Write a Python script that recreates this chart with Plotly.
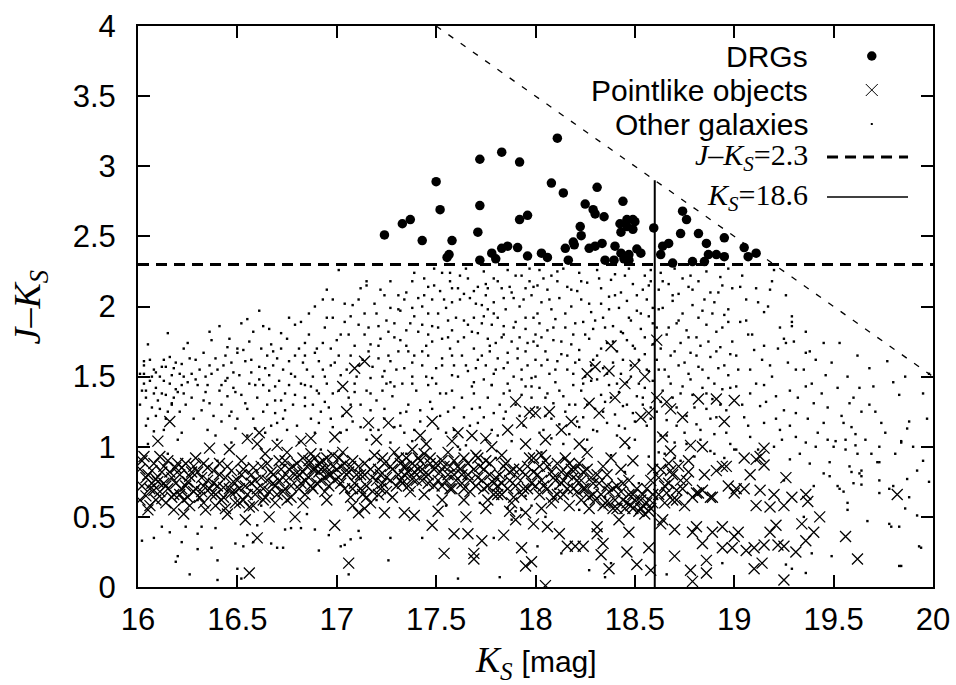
import plotly.graph_objects as go

# ---------------- data ----------------
CUT_JK = 2.3          # J-Ks colour cut
CUT_K = 18.6          # Ks completeness line
CUT_K_TOP = 2.9       # top of the Ks line
J_LIMIT = 21.5        # J limit -> J-Ks = J_LIMIT - Ks
J_LIMIT_K = [17.5, 20.0]

X_TICKS = [16, 16.5, 17, 17.5, 18, 18.5, 19, 19.5, 20]
Y_TICKS = [0, 0.5, 1, 1.5, 2, 2.5, 3, 3.5, 4]

LEGEND_LABELS = ["DRGs", "Pointlike objects", "Other galaxies",
                 "<i>J</i>–<i>K<sub>S</sub></i>=2.3", "<i>K<sub>S</sub></i>=18.6"]

DRGS = [(17.24,2.51),(17.33,2.59),(17.37,2.62),(17.50,2.89),(17.52,2.69),(17.43,2.47),(17.58,2.47),
        (17.555,2.35),(17.565,2.37),(17.72,3.05),(17.72,2.72),(17.71,2.53),(17.72,2.33),(17.83,3.10),
        (17.92,3.03),(18.11,3.20),(18.08,2.88),(18.14,2.81),(18.31,2.85),(18.44,2.75),(17.92,2.62),
        (17.96,2.65),(18.25,2.73),(18.29,2.69),(18.30,2.66),(18.345,2.64),(18.225,2.57),(18.23,2.505),
        (18.19,2.46),(18.195,2.44),(18.15,2.415),(18.27,2.415),(18.30,2.43),(18.335,2.45),(18.40,2.43),
        (18.46,2.62),(18.49,2.62),(18.425,2.59),(18.46,2.57),(18.49,2.55),(18.43,2.53),(18.50,2.605),
        (18.595,2.56),(18.43,2.38),(18.47,2.37),(18.51,2.41),(18.53,2.38),(18.445,2.34),(18.47,2.33),
        (18.35,2.33),(18.395,2.33),(18.165,2.33),(17.78,2.38),(17.80,2.34),(17.83,2.415),(17.86,2.43),
        (17.91,2.42),(17.96,2.36),(18.03,2.38),(18.06,2.35),(18.64,2.43),(18.67,2.45),(18.63,2.37),
        (18.69,2.31),(18.74,2.68),(18.76,2.62),(18.73,2.52),(18.82,2.52),(18.86,2.45),(18.95,2.49),
        (18.79,2.32),(18.85,2.32),(18.87,2.37),(18.91,2.37),(18.95,2.355),(19.05,2.42),(19.07,2.355),
        (19.11,2.38)]

POINTLIKE = [
    (16.02,0.72),(16.03,0.93),(16.04,0.65),(16.05,0.80),(16.06,0.58),(16.07,0.74),(16.08,0.88),(16.09,0.62),
    (16.10,1.04),(16.01,0.84),(16.06,0.70),(16.09,0.77),
    (16.11,0.68),(16.12,0.82),(16.13,0.74),(16.14,0.60),(16.15,0.90),(16.16,1.18),(16.17,0.78),(16.18,0.66),
    (16.19,0.85),(16.14,0.72),(16.18,0.55),
    (16.21,0.80),(16.22,0.70),(16.23,0.62),(16.24,0.88),(16.25,0.75),(16.26,0.58),(16.27,0.82),(16.28,0.68),
    (16.29,0.92),(16.23,0.52),
    (16.31,0.64),(16.32,0.78),(16.33,0.72),(16.34,0.55),(16.35,0.85),(16.36,0.99),(16.37,0.66),(16.38,0.74),
    (16.39,0.58),(16.33,0.88),
    (16.41,0.80),(16.42,0.62),(16.43,0.71),(16.44,0.56),(16.45,0.86),(16.46,0.98),(16.47,0.67),(16.48,0.75),
    (16.49,0.60),(16.45,0.52),
    (16.51,0.70),(16.52,0.80),(16.53,0.62),(16.54,0.48),(16.55,1.06),(16.56,0.10),(16.57,0.74),(16.58,0.85),
    (16.59,0.66),(16.52,0.90),(16.56,0.57),
    (16.60,0.35),(16.61,1.10),(16.62,0.78),(16.63,0.70),(16.64,0.64),(16.65,0.88),(16.66,0.50),(16.67,0.82),
    (16.68,0.74),(16.69,0.60),(16.70,1.01),(16.64,0.95),
    (16.71,0.76),(16.72,0.84),(16.73,0.68),(16.74,0.90),(16.75,0.62),(16.76,0.78),(16.77,0.72),(16.78,0.86),
    (16.79,0.50),(16.75,0.96),
    (16.81,0.80),(16.82,0.74),(16.83,0.92),(16.84,0.66),(16.85,0.86),(16.86,0.78),(16.87,1.06),(16.88,0.70),
    (16.89,0.84),(16.83,0.60),(16.87,0.95),
    (16.91,0.82),(16.92,0.76),(16.93,0.90),(16.94,0.68),(16.95,0.85),(16.96,0.72),(16.97,0.80),(16.98,0.94),
    (16.99,1.07),(16.99,0.44),(16.95,0.62),
    (17.01,0.78),(17.02,0.86),(17.03,1.43),(17.04,0.70),(17.05,1.25),(17.06,0.17),(17.06,0.82),(17.07,0.64),
    (17.08,0.90),(17.09,0.74),(17.03,0.96),(17.08,0.58),(17.09,1.56),(17.14,1.61),
    (17.11,0.53),(17.12,0.80),(17.13,0.66),(17.14,0.88),(17.15,0.72),(17.16,1.17),(17.17,0.60),(17.18,0.78),
    (17.19,0.94),(17.14,0.56),
    (17.21,0.84),(17.22,0.70),(17.23,0.92),(17.24,0.53),(17.25,0.78),(17.26,1.17),(17.27,0.86),(17.28,0.64),
    (17.29,0.96),(17.23,0.74),
    (17.31,0.80),(17.32,0.88),(17.33,0.74),(17.34,0.53),(17.35,0.92),(17.36,0.82),(17.37,0.68),(17.38,0.98),
    (17.39,0.51),(17.34,0.86),(17.38,0.77),
    (17.41,0.84),(17.42,0.90),(17.43,0.76),(17.44,0.66),(17.45,1.02),(17.46,0.80),(17.47,0.88),(17.48,1.18),
    (17.48,0.44),(17.49,0.72),(17.44,0.95),
    (17.51,0.54),(17.52,0.82),(17.53,0.90),(17.54,0.24),(17.55,0.76),(17.56,0.96),(17.57,0.86),(17.58,0.70),
    (17.59,0.38),(17.59,0.80),(17.53,0.62),
    (17.61,1.10),(17.62,0.84),(17.63,0.74),(17.64,0.92),(17.65,0.50),(17.66,0.38),(17.66,0.80),(17.67,0.68),
    (17.68,1.08),(17.69,0.24),(17.69,0.20),(17.70,0.94),(17.64,0.62),
    (17.71,0.78),(17.72,0.86),(17.73,0.33),(17.74,0.70),(17.75,0.90),(17.76,0.62),(17.77,0.80),(17.78,1.00),
    (17.79,0.74),(17.75,0.56),
    (17.81,0.72),(17.82,0.80),(17.83,0.66),(17.84,0.37),(17.85,0.88),(17.86,1.12),(17.87,0.76),(17.88,0.60),
    (17.89,0.84),(17.83,0.94),(17.87,0.54),
    (17.90,1.32),(17.90,0.48),(17.91,0.78),(17.93,1.17),(17.93,0.28),(17.94,0.70),(17.95,0.15),(17.95,0.53),
    (17.96,0.86),(17.97,1.25),(17.98,0.18),(17.98,0.74),(17.99,0.45),(17.99,0.92),
    (18.00,1.24),(18.01,0.80),(18.02,0.66),(18.03,0.94),(18.04,0.72),(18.05,0.01),(18.06,0.43),(18.06,0.86),
    (18.07,1.25),(18.08,0.60),(18.09,0.78),(18.03,0.56),
    (18.11,0.88),(18.12,0.38),(18.13,1.12),(18.13,0.74),(18.14,0.66),(18.15,0.92),(18.16,0.29),(18.16,0.80),
    (18.17,0.58),(18.18,1.18),(18.18,0.84),(18.19,0.70),
    (18.20,0.29),(18.21,0.76),(18.22,0.88),(18.23,0.62),(18.24,0.29),(18.24,0.82),(18.25,0.70),(18.26,0.96),
    (18.27,1.31),(18.27,0.56),(18.28,0.78),(18.29,0.66),(18.26,1.52),
    (18.31,0.38),(18.31,0.43),(18.32,1.24),(18.32,0.74),(18.33,0.23),(18.34,0.31),(18.34,0.86),(18.35,0.60),
    (18.36,0.80),(18.37,0.13),(18.37,0.68),(18.38,0.92),(18.39,0.56),(18.40,1.35),(18.30,1.57),(18.37,1.54),
    (18.38,1.72),
    (18.41,0.72),(18.42,0.48),(18.43,0.84),(18.44,0.62),(18.45,1.45),(18.45,0.56),(18.46,0.25),(18.47,0.39),
    (18.47,0.76),(18.48,0.58),(18.49,0.90),(18.49,0.66),
    (18.50,1.58),(18.51,0.16),(18.52,0.54),(18.53,1.21),(18.53,0.62),(18.54,0.58),(18.55,1.50),(18.55,0.52),
    (18.56,0.70),(18.57,0.28),(18.57,1.24),(18.58,0.12),(18.58,0.56),(18.59,0.84),(18.59,0.60),(18.61,1.76),
    (18.61,1.35),(18.62,0.78),(18.63,0.45),(18.64,0.48),(18.64,1.07),(18.65,0.72),(18.66,0.67),(18.66,1.32),
    (18.67,0.88),(18.68,0.83),(18.68,0.97),(18.68,1.27),(18.70,0.41),(18.70,0.22),(18.69,0.62),
    (18.71,0.69),(18.73,0.76),(18.74,1.21),(18.75,0.58),(18.76,0.76),(18.77,0.90),(18.78,1.01),(18.78,0.12),
    (18.79,0.39),(18.79,0.64),(18.79,0.04),(18.72,0.86),
    (18.81,0.43),(18.81,0.67),(18.82,1.34),(18.82,0.67),(18.84,1.00),(18.84,0.69),(18.84,0.31),(18.86,0.19),
    (18.86,0.10),(18.88,0.64),(18.89,0.39),(18.89,0.64),(18.85,0.80),
    (18.91,0.83),(18.91,1.34),(18.94,0.86),(18.94,0.43),(18.94,0.28),(18.95,1.18),(18.96,0.86),(18.99,0.28),
    (19.00,0.67),(19.00,0.36),(19.00,1.33),(18.97,0.72),
    (19.01,0.70),(19.02,0.39),(19.05,0.92),(19.05,0.70),(19.06,0.26),(19.08,0.80),
    (19.10,0.28),(19.10,0.13),(19.11,0.58),(19.11,0.91),(19.13,0.93),(19.13,0.69),(19.14,0.17),(19.15,0.99),
    (19.15,0.87),(19.15,0.30),(19.18,0.57),(19.18,0.39),(19.20,0.66),
    (19.21,0.44),(19.22,0.30),(19.25,0.58),(19.25,0.29),(19.25,0.05),(19.26,0.78),(19.29,0.64),
    (19.31,0.25),(19.34,0.45),(19.36,0.66),(19.36,0.33),(19.37,0.61),(19.40,0.39),
    (19.43,0.50),(19.56,0.36),(19.62,0.20),(19.82,0.66),
    # dense band, second reading
    (16.01,0.62),(16.02,0.90),(16.04,0.78),(16.05,0.55),(16.07,0.83),(16.08,0.69),(16.10,0.75),
    (16.11,0.93),(16.12,0.63),(16.13,0.86),(16.15,0.70),(16.16,0.82),(16.17,0.64),(16.19,0.74),(16.20,0.88),
    (16.21,0.66),(16.22,0.85),(16.24,0.72),(16.25,0.64),(16.26,0.79),(16.28,0.86),(16.29,0.70),
    (16.30,0.82),(16.32,0.68),(16.33,0.60),(16.35,0.76),(16.36,0.70),(16.38,0.83),(16.39,0.66),
    (16.40,0.72),(16.41,0.88),(16.43,0.64),(16.44,0.78),(16.46,0.70),(16.47,0.83),(16.49,0.68),
    (16.50,0.76),(16.51,0.60),(16.53,0.84),(16.54,0.72),(16.55,0.66),(16.57,0.80),(16.58,0.58),(16.59,0.76),
    (16.60,0.70),(16.62,0.86),(16.63,0.62),(16.65,0.76),(16.66,0.68),(16.68,0.80),(16.69,0.72),
    (16.70,0.66),(16.71,0.90),(16.73,0.78),(16.74,0.70),(16.76,0.84),(16.77,0.64),(16.79,0.80),
    (16.80,0.88),(16.81,0.70),(16.83,0.82),(16.84,0.76),(16.86,0.90),(16.87,0.72),(16.88,0.84),(16.89,0.92),
    (16.90,0.74),(16.91,0.88),(16.92,0.84),(16.94,0.78),(16.95,0.92),(16.96,0.80),(16.98,0.86),(16.99,0.76),
    (17.00,0.84),(17.01,0.92),(17.02,0.74),(17.04,0.88),(17.05,0.80),(17.07,0.86),(17.08,0.70),(17.10,0.80),
    (17.11,0.86),(17.12,0.70),(17.14,0.80),(17.15,0.64),(17.17,0.84),(17.18,0.68),(17.20,0.76),
    (17.21,0.66),(17.22,0.80),(17.24,0.88),(17.25,0.68),(17.27,0.76),(17.28,0.84),(17.30,0.72),
    (17.31,0.92),(17.32,0.76),(17.34,0.80),(17.35,0.86),(17.36,0.72),(17.38,0.88),(17.39,0.82),
    (17.40,0.76),(17.41,0.92),(17.43,0.84),(17.44,0.80),(17.46,0.74),(17.47,0.92),(17.49,0.84),
    (17.50,0.88),(17.51,0.76),(17.53,0.72),(17.54,0.86),(17.56,0.80),(17.57,0.70),(17.59,0.90),
    (17.60,0.76),(17.61,0.86),(17.63,0.80),(17.64,0.70),(17.66,0.88),(17.67,0.76),(17.69,0.84),
    (17.70,0.72),(17.71,0.92),(17.73,0.76),(17.74,0.84),(17.76,0.72),(17.77,0.88),(17.79,0.66),
    (17.80,0.78),(17.81,0.66),(17.83,0.74),(17.84,0.86),(17.86,0.70),(17.87,0.82),(17.89,0.64),
    (17.90,0.72),(17.92,0.84),(17.93,0.66),(17.95,0.80),(17.96,0.70),(17.97,0.92),(17.99,0.82),
    (18.00,0.72),(18.02,0.86),(18.03,0.76),(18.05,0.90),(18.06,0.70),(18.08,0.82),(18.09,0.64),
    (18.10,0.76),(18.11,0.66),(18.13,0.82),(18.14,0.76),(18.16,0.70),(18.17,0.88),(18.19,0.78),
    (18.20,0.84),(18.21,0.68),(18.23,0.76),(18.24,0.70),(18.26,0.84),(18.27,0.64),(18.29,0.74),
    (18.30,0.62),(18.31,0.80),(18.33,0.66),(18.34,0.58),(18.36,0.72),(18.37,0.60),(18.39,0.70),
    (18.40,0.62),(18.41,0.56),(18.43,0.68),(18.44,0.74),(18.46,0.60),(18.47,0.66),(18.49,0.56),
    (18.50,0.62),(18.51,0.70),(18.53,0.56),(18.54,0.66),(18.56,0.60),(18.57,0.54),(18.59,0.66),(18.58,0.76),
    (18.62,0.66),(18.63,0.84),(18.65,0.60),(18.67,0.74),(18.69,0.80),(18.71,0.62),(18.74,0.70),(18.77,0.82),
    (17.20,1.05),(17.42,1.08),(17.58,1.04),(17.75,1.06),(17.95,1.02),(18.05,1.05),(18.22,1.02),(18.45,1.03),
    (16.60,1.02),(16.82,1.04)]

OTHER_GALAXIES = [
    # Ks 16-17, upper cloud
    (16.01,1.52),(16.02,1.40),(16.03,1.58),(16.04,1.35),(16.05,1.73),(16.06,1.47),(16.07,1.28),(16.08,1.55),
    (16.09,1.42),(16.04,1.15),(16.09,1.22),(16.11,1.50),(16.12,1.38),(16.13,1.62),(16.15,1.81),(16.16,1.45),
    (16.17,1.30),(16.18,1.56),(16.19,1.41),(16.14,1.20),(16.04,1.40),(16.08,1.38),(16.14,1.37),(16.17,1.31),
    (16.20,1.39),(16.22,1.44),(16.30,1.44),(16.34,1.39),(16.33,1.33),(16.45,1.36),(16.49,1.39),(16.42,1.44),
    (16.24,1.30),(16.42,1.18),(16.50,1.20),(16.47,1.25),(16.54,1.31),(16.59,1.44),(16.63,1.44),(16.69,1.43),
    (16.76,1.44),(16.84,1.44),(16.91,1.38),(16.87,1.43),(16.79,1.37),(16.72,1.33),(16.65,1.30),(16.69,1.24),
    (16.74,1.26),(16.84,1.29),(16.88,1.30),(16.94,1.32),(16.91,1.17),(16.98,1.14),(16.89,1.10),(16.81,1.03),
    (16.70,1.17),(16.75,1.12),(16.64,1.10),(16.59,1.13),(16.22,1.10),(16.13,1.12),(16.08,1.11),(16.39,1.08),
    (16.47,1.03),(16.03,1.61),(16.03,1.52),(16.09,1.53),(16.14,1.57),(16.17,1.51),(16.22,1.59),(16.23,1.50),
    (16.27,1.52),(16.29,1.62),(16.34,1.50),(16.36,1.58),(16.40,1.55),(16.44,1.65),(16.45,1.49),(16.48,1.53),
    (16.50,1.67),(16.54,1.61),(16.57,1.53),(16.61,1.57),(16.65,1.65),(16.66,1.51),(16.70,1.63),(16.73,1.55),
    (16.76,1.61),(16.79,1.50),(16.84,1.65),(16.85,1.55),(16.91,1.61),(16.94,1.50),(16.97,1.58),(17.01,1.65),
    (17.02,1.51),(16.23,1.70),(16.45,1.71),(16.50,1.70),(16.56,1.75),(16.67,1.73),(16.68,1.68),(16.81,1.70),
    (16.84,1.74),(16.90,1.70),(16.93,1.74),(17.00,1.76),(16.72,1.81),(16.58,1.82),(16.41,1.86),(16.55,1.91),
    (16.61,1.97),(16.63,1.86),(16.25,1.74),(16.37,1.76),(16.46,1.77),(16.79,1.87),(16.82,1.89),(16.93,2.05),
    (16.95,2.12),(17.01,2.26),(16.95,1.92),(16.98,1.92),
    (16.01,1.30),(16.03,1.45),(16.05,1.20),(16.06,1.62),(16.07,1.50),(16.10,1.33),(16.11,1.27),(16.12,1.57),
    (16.13,1.47),(16.15,1.25),(16.16,1.64),(16.18,1.35),(16.19,1.60),(16.21,1.25),(16.21,1.52),(16.23,1.38),
    (16.25,1.46),(16.26,1.63),(16.27,1.35),(16.28,1.20),(16.29,1.48),(16.31,1.55),(16.32,1.26),(16.33,1.67),
    (16.35,1.44),(16.36,1.31),(16.37,1.52),(16.38,1.22),(16.39,1.63),(16.41,1.40),(16.42,1.30),(16.43,1.58),
    (16.44,1.47),(16.46,1.22),(16.47,1.60),(16.48,1.42),(16.49,1.13),(16.51,1.51),(16.52,1.37),(16.53,1.69),
    (16.55,1.27),(16.56,1.45),(16.57,1.62),(16.58,1.20),(16.60,1.35),(16.61,1.48),(16.62,1.70),(16.63,1.25),
    (16.64,1.56),(16.66,1.40),(16.67,1.15),(16.68,1.58),(16.69,1.33),(16.71,1.47),(16.72,1.70),(16.73,1.20),
    (16.74,1.38),(16.75,1.77),(16.77,1.52),(16.78,1.30),(16.79,1.65),(16.80,1.15),(16.82,1.45),(16.83,1.60),
    (16.84,1.35),(16.86,1.80),(16.87,1.20),(16.88,1.50),(16.89,1.67),(16.90,1.40),(16.92,1.25),(16.93,1.55),
    (16.94,1.85),(16.95,1.45),(16.96,1.28),(16.97,1.70),(16.98,1.38),(16.99,1.60),(16.86,1.95),(16.76,1.92),
    (16.66,1.84),(16.52,1.88),(16.36,1.82),(16.89,2.00),(16.98,2.05),(16.70,1.05),(16.55,1.08),(16.35,1.12),
    (16.20,1.05),(16.05,1.02),
    # faint low J-Ks tail
    (16.02,0.33),(16.08,0.35),(16.12,0.43),(16.16,0.39),(16.20,0.22),(16.19,0.18),(16.22,0.32),(16.26,0.09),
    (16.30,0.27),(16.30,0.38),(16.32,0.43),(16.24,0.43),(16.37,0.28),(16.40,0.19),(16.40,0.05),(16.39,0.42),
    (16.49,0.31),(16.50,0.13),(16.53,0.29),(16.58,0.32),(16.60,0.44),(16.67,0.31),(16.70,0.28),(16.73,0.28),
    (16.55,0.37),(16.74,0.41),(16.77,0.42),(16.82,0.42),(16.89,0.41),(16.91,0.26),(16.96,0.37),(17.02,0.29),
    (17.04,0.30),(17.07,0.34),(17.11,0.40),(17.12,0.35),(17.06,0.09),(17.26,0.19),(17.27,0.35),(17.43,0.35),
    (17.61,0.06),(17.82,0.07),(17.79,0.35),(17.88,0.48),(17.90,0.54),(17.86,0.56),(17.93,0.55),(17.98,0.58),
    (16.52,0.06),(18.01,0.29),(18.13,0.24),(18.27,0.12),(18.35,0.07),(18.38,0.17),(18.66,0.09),(18.94,0.17),
    (19.26,0.16),(19.29,0.13),(19.36,0.10),(19.39,0.24),(19.49,0.22),
    # inside the pointlike band
    (16.15,0.95),(16.40,0.90),(16.62,0.58),(16.85,0.52),(17.05,0.68),(17.20,0.62),(17.35,0.95),(17.55,0.58),
    (17.72,0.60),(17.80,0.92),(17.95,0.65),(18.10,0.70),(18.22,0.55),(18.35,0.64),(18.45,0.82),(18.52,0.74),
    (16.30,0.62),(16.92,0.98),(17.62,0.98),(18.05,0.50),
    # Ks 17-18, J-Ks 0.9-1.45
    (17.65,1.01),(17.09,1.39),(17.17,1.38),(17.23,1.40),(17.29,1.43),(17.38,1.45),(17.46,1.44),(17.52,1.38),
    (17.58,1.40),(17.68,1.43),(17.78,1.44),(17.84,1.38),(17.93,1.37),(17.98,1.43),(17.17,1.26),(17.24,1.27),
    (17.32,1.24),(17.42,1.26),(17.48,1.27),(17.56,1.25),(17.64,1.21),(17.74,1.21),(17.79,1.24),(17.07,1.30),
    (17.12,1.14),(17.21,1.12),(17.29,1.14),(17.34,1.10),(17.39,1.12),(17.51,1.13),(17.59,1.12),(17.71,1.17),
    (17.81,1.08),(17.02,1.10),(16.97,1.20),(17.27,1.03),(17.38,1.04),(17.61,1.00),(17.88,1.04),
    # Ks 17-17.7, J-Ks 1.45-2.3
    (17.04,1.89),(17.06,1.80),(17.11,1.87),(17.14,1.80),(17.17,1.73),(17.21,1.86),(17.22,1.77),(17.26,1.82),
    (17.29,1.88),(17.32,1.76),(17.35,1.83),(17.39,1.93),(17.43,1.87),(17.46,1.80),(17.48,1.86),(17.51,1.95),
    (17.53,1.77),(17.56,1.90),(17.58,1.83),(17.61,1.75),(17.64,1.90),(17.66,1.87),(17.07,1.65),(17.11,1.58),
    (17.16,1.68),(17.21,1.63),(17.24,1.54),(17.27,1.61),(17.31,1.68),(17.34,1.56),(17.39,1.65),(17.43,1.58),
    (17.46,1.65),(17.50,1.56),(17.53,1.63),(17.57,1.70),(17.59,1.58),(17.63,1.65),(17.66,1.54),(17.58,1.51),
    (17.48,1.49),(17.38,1.50),(17.27,1.46),(17.17,1.49),(17.09,1.45),(17.27,1.99),(17.32,1.97),(17.38,1.99),
    (17.43,2.00),(17.48,2.05),(17.52,2.11),(17.55,1.99),(17.58,2.03),(17.61,2.13),(17.64,2.09),(17.67,2.06),
    (17.58,2.13),(17.24,2.08),(17.31,2.08),(17.38,2.18),(17.44,2.20),(17.49,2.27),(17.53,2.24),(17.57,2.24),
    (17.12,2.13),(17.15,2.15),(17.15,2.18),(17.35,2.10),(17.41,2.06),(17.46,2.14),(17.62,2.22),(17.65,2.27),
    (17.20,1.95),(17.08,2.01),(17.45,1.72),(17.36,1.68),
    (17.01,1.40),(17.02,1.80),(17.03,1.22),(17.04,2.02),(17.05,1.55),(17.06,1.35),(17.07,1.93),(17.08,1.18),
    (17.09,1.72),(17.10,1.50),(17.11,2.05),(17.12,1.30),(17.13,1.62),(17.14,1.95),(17.15,1.40),(17.16,1.85),
    (17.17,1.12),(17.18,1.57),(17.19,2.02),(17.20,1.33),(17.21,1.72),(17.22,2.12),(17.23,1.50),(17.24,1.20),
    (17.25,1.90),(17.26,1.65),(17.27,2.18),(17.28,1.36),(17.29,1.78),(17.30,1.55),(17.31,1.98),(17.32,1.15),
    (17.33,1.45),(17.34,2.05),(17.35,1.72),(17.36,1.30),(17.37,1.88),(17.38,1.60),(17.39,2.24),(17.40,1.40),
    (17.41,1.82),(17.42,1.18),(17.43,1.68),(17.44,2.08),(17.45,1.50),(17.46,1.95),(17.47,1.32),(17.48,1.75),
    (17.49,2.15),(17.50,1.45),(17.51,1.85),(17.52,1.22),(17.53,1.58),(17.54,2.05),(17.55,1.38),(17.56,1.78),
    (17.57,2.18),(17.58,1.65),(17.59,1.28),(17.60,1.92),(17.61,1.50),(17.62,2.05),(17.63,1.35),(17.64,1.78),
    (17.65,1.58),(17.66,2.20),(17.67,1.15),(17.68,1.82),(17.69,1.38),(17.70,2.02),(17.71,1.62),(17.72,1.28),
    (17.73,1.88),(17.74,1.48),(17.75,2.08),(17.76,1.35),(17.77,1.72),(17.78,1.12),(17.79,1.95),(17.80,1.55),
    (17.81,2.18),(17.82,1.30),(17.83,1.78),(17.84,1.20),(17.85,1.98),(17.86,1.60),(17.87,1.40),(17.88,2.10),
    (17.89,1.85),(17.90,1.30),(17.91,1.70),(17.92,2.00),(17.93,1.48),(17.94,1.15),(17.95,1.92),(17.96,1.58),
    (17.97,2.18),(17.98,1.35),(17.99,1.75),(17.55,1.10),(17.75,1.05),(17.45,1.02),(17.85,1.25),(17.15,1.05),
    (17.35,1.25),(17.68,1.27),(17.92,1.22),(17.05,1.12),(17.25,1.45),
    # Ks 17.7-18
    (17.71,2.14),(17.75,2.16),(17.76,2.13),(17.79,2.20),(17.83,2.13),(17.87,2.14),(17.90,2.22),(17.93,2.22),
    (17.95,2.13),(17.99,2.14),(17.69,2.11),(17.73,2.01),(17.76,1.98),(17.79,2.03),(17.84,2.06),(17.89,2.06),
    (17.94,2.05),(17.98,2.08),(17.69,1.92),(17.74,1.93),(17.78,1.87),(17.81,1.92),(17.84,1.86),(17.90,1.89),
    (17.95,1.84),(17.99,1.92),(17.71,1.81),(17.76,1.77),(17.80,1.74),(17.84,1.80),(17.88,1.75),(17.92,1.78),
    (17.96,1.74),(18.00,1.80),(17.69,1.70),(17.73,1.65),(17.77,1.68),(17.81,1.63),(17.86,1.67),(17.91,1.63),
    (17.95,1.68),(18.00,1.62),(17.70,1.56),(17.75,1.58),(17.79,1.52),(17.84,1.56),(17.89,1.50),(17.93,1.55),
    (17.98,1.49),(17.69,1.46),(17.78,1.44),(17.86,1.45),(17.95,1.43),(17.86,2.26),(17.97,2.27),(17.74,2.25),
    # Ks 18-18.6
    (18.02,2.26),(18.08,2.22),(18.14,2.27),(18.22,2.24),(18.31,2.26),(18.40,2.23),(18.47,2.27),(18.55,2.22),
    (18.58,2.26),(18.01,2.15),(18.06,2.12),(18.11,2.18),(18.16,2.14),(18.21,2.11),(18.26,2.17),(18.33,2.13),
    (18.38,2.19),(18.43,2.10),(18.49,2.16),(18.54,2.12),(18.58,2.18),(18.03,2.03),(18.08,1.98),(18.12,2.06),
    (18.18,2.00),(18.23,2.05),(18.28,1.96),(18.33,2.02),(18.37,2.07),(18.42,1.99),(18.46,2.04),(18.51,1.97),
    (18.56,2.05),(18.59,1.99),(18.02,1.88),(18.06,1.83),(18.10,1.91),(18.15,1.85),(18.19,1.80),(18.24,1.89),
    (18.29,1.84),(18.34,1.92),(18.39,1.86),(18.44,1.81),(18.48,1.90),(18.53,1.84),(18.57,1.93),(18.01,1.72),
    (18.05,1.68),(18.09,1.76),(18.13,1.66),(18.18,1.73),(18.22,1.69),(18.27,1.77),(18.31,1.65),(18.36,1.74),
    (18.41,1.68),(18.46,1.76),(18.50,1.70),(18.55,1.66),(18.59,1.73),(18.03,1.58),(18.07,1.52),(18.11,1.61),
    (18.16,1.55),(18.20,1.60),(18.25,1.50),(18.29,1.62),(18.34,1.56),(18.39,1.60),(18.43,1.52),(18.48,1.58),
    (18.52,1.62),(18.57,1.54),(18.02,1.42),(18.06,1.38),(18.10,1.46),(18.14,1.36),(18.19,1.44),(18.23,1.40),
    (18.28,1.47),(18.33,1.37),(18.37,1.44),(18.42,1.39),(18.46,1.46),(18.51,1.36),(18.55,1.42),(18.59,1.47),
    (18.01,1.28),(18.05,1.22),(18.09,1.31),(18.15,1.25),(18.20,1.30),(18.24,1.21),(18.30,1.27),(18.35,1.32),
    (18.40,1.23),(18.44,1.29),(18.49,1.24),(18.54,1.30),(18.58,1.20),(18.04,1.12),(18.08,1.06),(18.12,1.16),
    (18.17,1.09),(18.22,1.14),(18.26,1.05),(18.31,1.11),(18.36,1.17),(18.41,1.08),(18.45,1.13),(18.50,1.05),
    (18.56,1.15),(18.03,0.96),(18.14,0.92),(18.25,0.98),(18.38,0.94),(18.47,0.99),(18.57,0.93),
    (18.00,1.50),(18.01,1.95),(18.02,1.10),(18.03,1.78),(18.04,2.20),(18.05,1.35),(18.06,1.62),(18.07,2.05),
    (18.08,1.20),(18.09,1.85),(18.10,1.55),(18.11,2.25),(18.12,1.40),(18.13,1.75),(18.14,1.02),(18.15,1.95),
    (18.16,1.65),(18.17,1.30),(18.18,2.12),(18.19,1.52),(18.20,1.88),(18.21,1.18),(18.22,1.62),(18.23,2.18),
    (18.24,1.45),(18.25,1.80),(18.26,1.30),(18.27,2.02),(18.28,1.58),(18.29,1.12),(18.30,1.90),(18.31,1.48),
    (18.32,2.20),(18.33,1.70),(18.34,1.25),(18.35,1.85),(18.36,1.52),(18.37,1.98),(18.38,1.35),(18.39,1.75),
    (18.40,2.08),(18.41,1.45),(18.42,1.15),(18.43,1.82),(18.44,1.62),(18.45,2.22),(18.46,1.30),(18.47,1.92),
    (18.48,1.50),(18.49,1.72),(18.50,1.18),(18.51,2.08),(18.52,1.45),(18.53,1.95),(18.54,1.35),(18.55,1.78),
    (18.56,1.55),(18.57,2.15),(18.58,1.28),(18.59,1.88),
    # Ks 18.6-19
    (18.63,2.24),(18.70,2.27),(18.78,2.22),(18.86,2.25),(18.93,2.21),(18.62,2.12),(18.67,2.16),(18.72,2.09),
    (18.77,2.14),(18.82,2.18),(18.88,2.10),(18.94,2.15),(18.64,1.99),(18.69,2.04),(18.74,1.95),(18.79,2.01),
    (18.84,1.97),(18.90,2.03),(18.95,1.94),(18.61,1.85),(18.66,1.80),(18.71,1.88),(18.76,1.83),(18.81,1.78),
    (18.86,1.87),(18.91,1.82),(18.97,1.89),(18.63,1.70),(18.68,1.65),(18.73,1.74),(18.78,1.67),(18.83,1.72),
    (18.88,1.64),(18.93,1.71),(18.98,1.66),(18.62,1.55),(18.67,1.50),(18.72,1.58),(18.77,1.52),(18.82,1.57),
    (18.87,1.49),(18.92,1.56),(18.97,1.51),(18.64,1.40),(18.69,1.35),(18.74,1.43),(18.79,1.37),(18.84,1.42),
    (18.89,1.34),(18.94,1.41),(18.61,1.25),(18.66,1.19),(18.71,1.28),(18.76,1.22),(18.81,1.16),(18.86,1.27),
    (18.91,1.21),(18.96,1.26),(18.63,1.08),(18.70,1.03),(18.75,1.10),(18.83,1.05),(18.90,1.09),(18.98,1.02),
    (18.65,0.95),(18.73,0.90),(18.80,0.93),(18.88,0.97),(18.95,0.92),(19.00,0.98),
    (18.61,1.62),(18.62,1.98),(18.63,1.32),(18.64,2.18),(18.65,1.55),(18.66,1.08),(18.67,1.85),(18.68,1.45),
    (18.69,2.08),(18.70,1.68),(18.71,1.15),(18.72,1.90),(18.73,1.38),(18.74,2.20),(18.75,1.60),(18.76,1.02),
    (18.77,1.78),(18.78,1.48),(18.79,2.12),(18.80,1.28),(18.81,1.65),(18.82,1.92),(18.83,1.12),(18.84,1.55),
    (18.85,2.05),(18.86,1.38),(18.87,1.75),(18.88,1.20),(18.89,1.95),(18.90,1.45),(18.91,1.68),(18.92,2.10),
    (18.93,1.30),(18.94,1.85),(18.95,1.58),(18.96,1.10),(18.97,1.98),(18.98,1.42),(18.99,1.75),(18.90,0.95),
    (18.70,0.92),(18.62,0.96),
    # Ks 19-19.5
    (19.03,2.14),(18.99,2.13),(18.97,2.27),(19.11,2.13),(19.15,1.96),(19.06,1.90),(19.07,1.80),(19.03,1.89),
    (19.10,1.69),(19.01,1.65),(19.20,2.26),(19.19,2.18),(19.18,2.12),(19.26,2.08),(19.29,1.93),(19.29,1.89),
    (19.29,1.86),(19.25,1.77),(19.26,1.74),(19.22,1.70),(19.15,1.72),(19.36,1.82),(19.38,1.68),(19.36,1.67),
    (19.45,1.74),(19.46,1.51),(19.01,1.43),(19.08,1.38),(19.15,1.44),(19.21,1.36),(19.28,1.40),(19.36,1.43),
    (19.13,1.29),(19.25,1.26),(19.31,1.24),(19.40,1.31),(19.45,1.17),(19.05,1.21),(19.15,1.17),(19.23,1.12),
    (19.31,1.07),(19.36,1.03),(19.41,1.00),(19.08,1.07),(19.20,1.00),(19.01,0.98),(19.28,0.91),(19.38,0.88),
    (19.45,0.81),(19.25,0.76),(19.40,0.72),(19.35,0.50),(19.48,0.79),(19.08,1.55),(19.18,1.58),(19.31,1.55),
    (19.12,2.03),(19.04,2.22),
    (19.02,1.55),(19.04,1.30),(19.06,2.05),(19.07,1.15),(19.09,1.80),(19.11,1.45),(19.12,0.98),(19.14,1.62),
    (19.16,1.32),(19.17,2.00),(19.19,1.50),(19.21,1.20),(19.23,1.85),(19.24,1.05),(19.27,1.60),(19.28,1.15),
    (19.30,1.75),(19.32,1.35),(19.33,0.95),(19.35,1.55),(19.37,1.20),(19.39,1.45),(19.41,1.62),(19.42,1.10),
    (19.44,1.38),(19.47,1.28),(19.49,1.60),(19.50,1.00),
    # Ks 19.5-20
    (19.53,1.74),(19.62,1.65),(19.68,1.56),(19.77,1.61),(19.80,1.46),(19.52,0.72),(19.83,1.37),(19.95,1.38),
    (19.88,1.18),(19.87,1.13),(19.84,1.03),(19.92,0.83),(19.98,0.75),(19.73,0.67),(19.74,1.17),(19.68,1.30),
    (19.64,1.25),(19.58,1.31),(19.55,1.17),(19.59,1.14),(19.61,1.09),(19.56,1.05),(19.51,1.04),(19.47,1.05),
    (19.48,0.89),(19.56,0.98),(19.58,0.86),(19.59,0.82),(19.64,0.83),(19.64,0.79),(19.64,0.73),(19.73,0.76),
    (19.73,0.89),(19.73,1.00),(19.78,0.70),(19.88,0.64),(19.53,0.70),(19.55,0.68),(19.57,0.60),(19.57,0.55),
    (19.78,0.45),(19.83,0.43),(19.93,0.29),(19.84,0.15),(19.67,0.47),(19.72,0.89),(19.84,1.04),(19.87,0.77),
    (19.80,0.72),(19.79,0.43),(19.86,0.56),(19.92,0.51),(19.94,0.28),(19.83,0.15),(19.60,0.74),(19.63,0.81),
    (19.62,0.95),(19.61,1.01),(19.86,1.50),(19.98,1.52),(19.70,1.43),(19.60,1.35),
    (19.52,1.42),(19.54,1.22),(19.57,1.50),(19.63,1.42),(19.66,1.05),(19.69,0.95),(19.71,1.25),(19.76,1.10),
    (19.81,0.95),(19.90,1.00),(19.95,0.90),(19.97,1.20)]

# ---------------- figure ----------------
BLACK = "black"
SANS = "Liberation Sans"
SERIF = "Liberation Serif"
FS = 31        # tick label size
FS_LEG = 30    # legend sans text size
FS_SERIF = 30  # legend serif (math) text size

fig = go.Figure()

fig.add_trace(go.Scatter(
    x=[p[0] for p in OTHER_GALAXIES], y=[p[1] for p in OTHER_GALAXIES], mode="markers",
    marker=dict(symbol="square", size=2.4, color=BLACK, line=dict(width=0)),
    showlegend=False, hoverinfo="skip"))

fig.add_trace(go.Scatter(
    x=[p[0] for p in POINTLIKE], y=[p[1] for p in POINTLIKE], mode="markers",
    marker=dict(symbol="x-thin", size=11, color=BLACK, line=dict(width=1.3, color=BLACK)),
    showlegend=False, hoverinfo="skip"))

# J limit (diagonal), colour cut and Ks line
fig.add_trace(go.Scatter(
    x=J_LIMIT_K, y=[J_LIMIT - k for k in J_LIMIT_K], mode="lines",
    line=dict(color=BLACK, width=1.3, dash="6px,9px"), showlegend=False, hoverinfo="skip"))
fig.add_trace(go.Scatter(
    x=[X_TICKS[0], X_TICKS[-1]], y=[CUT_JK, CUT_JK], mode="lines",
    line=dict(color=BLACK, width=3, dash="11px,7px"), showlegend=False, hoverinfo="skip"))
fig.add_trace(go.Scatter(
    x=[CUT_K, CUT_K], y=[Y_TICKS[0], CUT_K_TOP], mode="lines",
    line=dict(color=BLACK, width=2), showlegend=False, hoverinfo="skip"))

fig.add_trace(go.Scatter(
    x=[p[0] for p in DRGS], y=[p[1] for p in DRGS], mode="markers",
    marker=dict(symbol="circle", size=9.5, color=BLACK, line=dict(width=0)),
    showlegend=False, hoverinfo="skip"))

axis_common = dict(
    ticks="inside", ticklen=12, tickwidth=2, tickcolor=BLACK,
    showline=True, linewidth=2, linecolor=BLACK, mirror="ticks",
    showgrid=False, zeroline=False,
    tickfont=dict(family=SANS, size=FS, color=BLACK),
)
fig.update_xaxes(range=[X_TICKS[0], X_TICKS[-1]], tickvals=X_TICKS,
                 ticktext=[f"{t:g}" for t in X_TICKS], ticklabelstandoff=4, **axis_common)
fig.update_yaxes(range=[Y_TICKS[0], Y_TICKS[-1]], tickvals=Y_TICKS,
                 ticktext=[f"{t:g}" for t in Y_TICKS], ticklabelstandoff=14, **axis_common)

# axis titles
fig.add_annotation(xref="paper", yref="paper", x=0.5, y=-0.134, xanchor="center", yanchor="middle",
                   showarrow=False,
                   text="<i>K<sub>S</sub></i> <span style='font-family:Liberation Sans;font-size:30px'>[mag]</span>",
                   font=dict(family=SERIF, size=36, color=BLACK))
fig.add_annotation(xref="paper", yref="paper", x=-0.136, y=0.5, xanchor="center", yanchor="middle",
                   showarrow=False, textangle=-90,
                   text="<i>J</i>–<i>K<sub>S</sub></i>",
                   font=dict(family=SERIF, size=38, color=BLACK))

# custom legend (text right-aligned, sample on the right)
LEG_TEXT_X = 0.845
LEG_SYM_X = 0.923
LEG_LINE_X = (0.8667, 0.9686)
LEG_ROWS = [0.9465, 0.8859, 0.8253, 0.7665, 0.6952]
for i, label in enumerate(LEGEND_LABELS):
    fam, size = (SANS, FS_LEG) if i < 3 else (SERIF, FS_SERIF)
    fig.add_annotation(xref="paper", yref="paper", x=LEG_TEXT_X, y=LEG_ROWS[i],
                       xanchor="right", yanchor="middle", showarrow=False, text=label,
                       font=dict(family=fam, size=size, color=BLACK))

shapes = []
shapes.append(dict(type="circle", xref="paper", yref="paper", xsizemode="pixel", ysizemode="pixel",
                   xanchor=LEG_SYM_X, yanchor=LEG_ROWS[0], x0=-4.75, x1=4.75, y0=-4.75, y1=4.75,
                   fillcolor=BLACK, line=dict(width=0)))
for a, b in [(-6, 6), (6, -6)]:
    shapes.append(dict(type="line", xref="paper", yref="paper", xsizemode="pixel", ysizemode="pixel",
                       xanchor=LEG_SYM_X, yanchor=LEG_ROWS[1], x0=-6, x1=6, y0=a, y1=b,
                       line=dict(color=BLACK, width=1)))
shapes.append(dict(type="rect", xref="paper", yref="paper", xsizemode="pixel", ysizemode="pixel",
                   xanchor=LEG_SYM_X, yanchor=LEG_ROWS[2], x0=-1, x1=1, y0=-1, y1=1,
                   fillcolor=BLACK, line=dict(width=0)))
shapes.append(dict(type="line", xref="paper", yref="paper", x0=LEG_LINE_X[0], x1=LEG_LINE_X[1],
                   y0=LEG_ROWS[3], y1=LEG_ROWS[3], line=dict(color=BLACK, width=3, dash="11px,7px")))
shapes.append(dict(type="line", xref="paper", yref="paper", x0=LEG_LINE_X[0], x1=LEG_LINE_X[1],
                   y0=LEG_ROWS[4], y1=LEG_ROWS[4], line=dict(color=BLACK, width=1.5)))

fig.update_layout(
    width=956, height=685,
    margin=dict(l=138, r=23, t=26, b=98, autoexpand=False),
    paper_bgcolor="white", plot_bgcolor="white",
    showlegend=False, shapes=shapes,
)

fig.write_html("out.html")
